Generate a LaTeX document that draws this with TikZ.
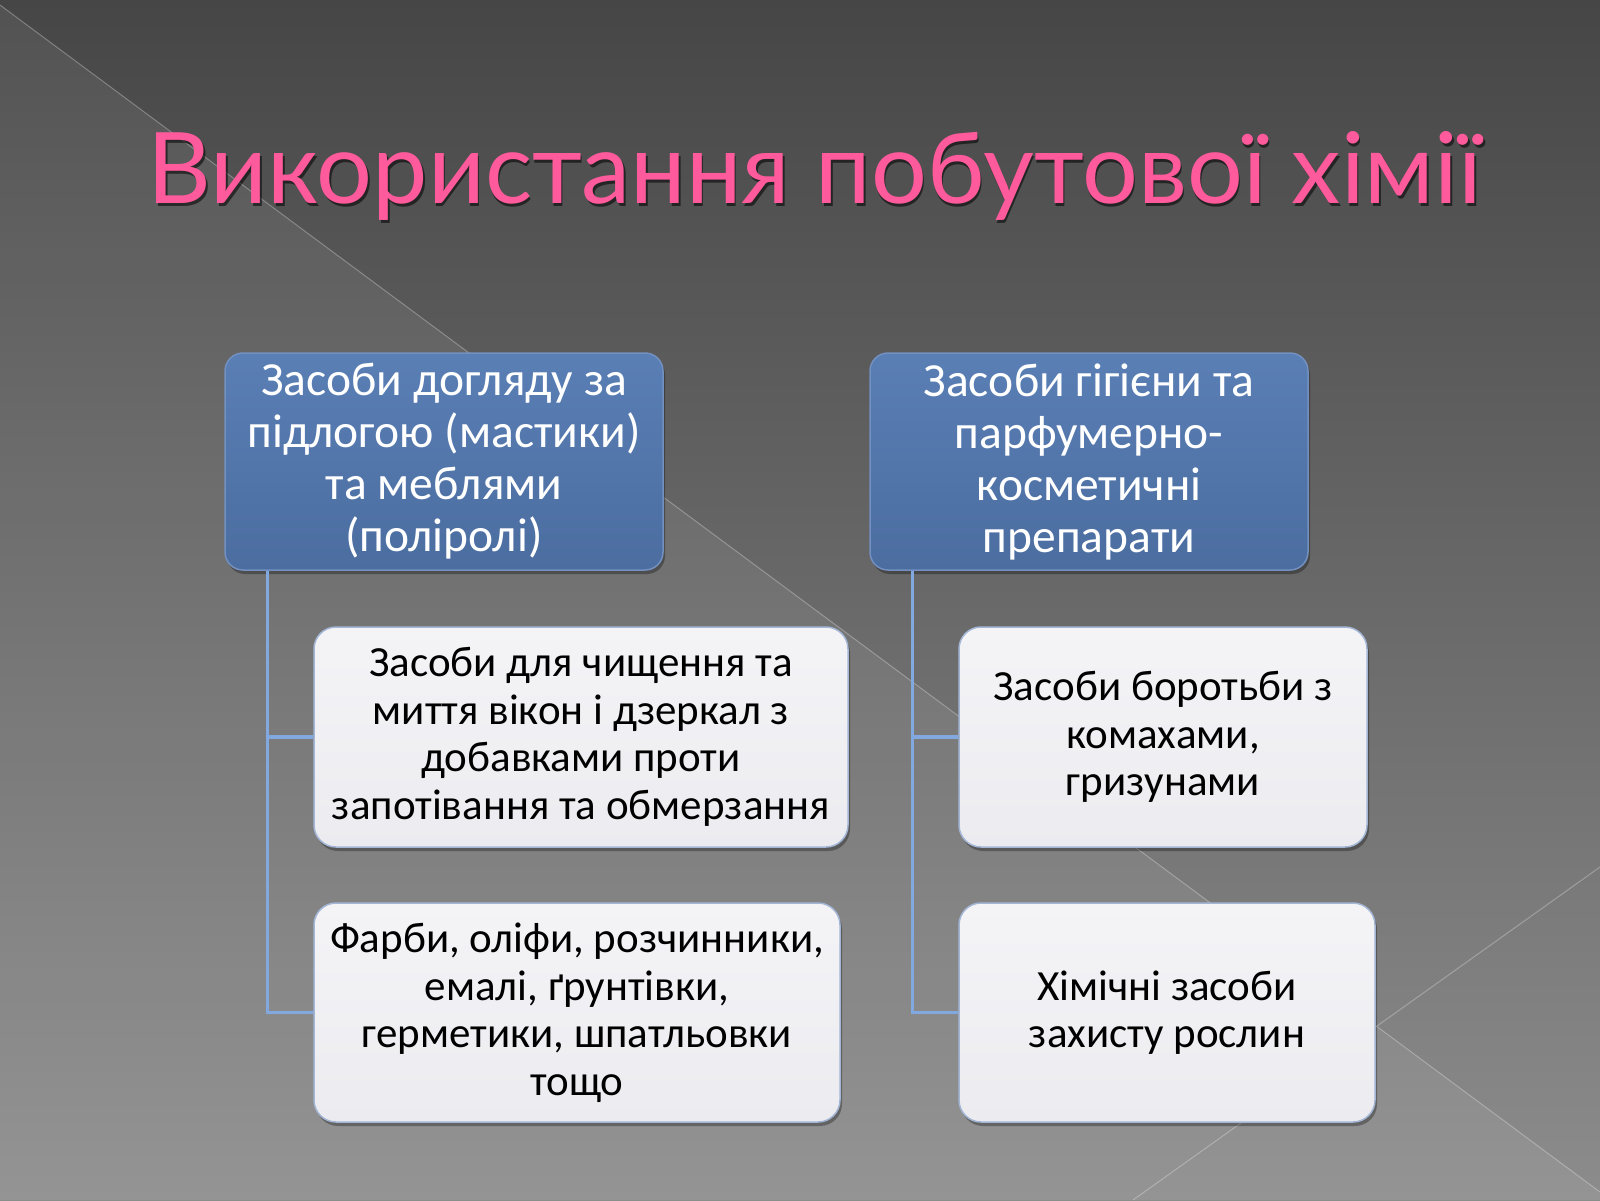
\documentclass[tikz,border=0pt]{standalone}
\usepackage{fontspec}
\usetikzlibrary{shadows}
\setmainfont{Carlito}
\newfontfamily\bodyfont{Carlito}
\newfontfamily\titlefont{Lato}
\definecolor{bgtop}{HTML}{464646}
\definecolor{bgbot}{HTML}{8C8C8C}
\definecolor{titlepink}{HTML}{FF5A9C}
\definecolor{blueTop}{HTML}{5A7FB5}
\definecolor{blueBot}{HTML}{4B6DA0}
\definecolor{blueEdge}{HTML}{7290C0}
\definecolor{whiteTop}{HTML}{F4F3F6}
\definecolor{whiteBot}{HTML}{ECEBEF}
\definecolor{whiteEdge}{HTML}{A3B6D6}
\definecolor{connC}{HTML}{82A8E0}
\tikzset{
  bgline/.style={draw=white, draw opacity=.28, line width=1pt},
  bluebox/.style={rectangle, rounded corners=18pt, top color=blueTop, bottom color=blueBot,
    draw=blueEdge, line width=1.5pt, inner sep=0pt, align=center, text=white,
    font=\bodyfont\fontsize{47.5pt}{52pt}\selectfont,
    drop shadow={shadow xshift=2pt, shadow yshift=-4pt, opacity=.3, fill=black}},
  whitebox/.style={rectangle, rounded corners=22pt, top color=whiteTop, bottom color=whiteBot,
    draw=whiteEdge, line width=1.5pt, inner sep=0pt, align=center, text=black,
    font=\bodyfont\fontsize{43pt}{47.5pt}\selectfont,
    drop shadow={shadow xshift=2pt, shadow yshift=-4pt, opacity=.3, fill=black}},
  conn/.style={draw=connC, line width=3.5pt}
}
\begin{document}
\begin{tikzpicture}[x=1pt,y=-1pt]
\useasboundingbox (0,0) rectangle (1600,1200);
% background
\fill[top color=bgtop, bottom color=bgbot] (0,0) rectangle (1600,1200);
\fill[white, opacity=.07] (0,5) -- (1600,1192) -- (1600,1200) -- (0,1200) -- cycle;
\draw[bgline] (0,5) -- (1600,1192);
\draw[bgline] (1133,1200) -- (1600,867);
% title
\node[anchor=base, text=black, opacity=.55, inner sep=0pt] (tshadow) at (816.5,206)
  {\titlefont\resizebox{1334pt}{!}{Використання побутової хімії}};
\node[anchor=base, text=titlepink, inner sep=0pt] (title) at (815,203)
  {\titlefont\resizebox{1334pt}{!}{Використання побутової хімії}};
% top boxes
\node[bluebox, minimum width=438pt, minimum height=217pt] (b1) at (444,461.5)
  {Засоби догляду за\\підлогою (мастики)\\та меблями\\(поліролі)};
\node[bluebox, minimum width=438pt, minimum height=217pt] (b2) at (1089,461.5)
  {Засоби гігієни та\\парфумерно-\\косметичні\\препарати};
% child boxes
\node[whitebox, minimum width=534pt, minimum height=220pt] (w1) at (581,737)
  {Засоби для чищення та\\миття вікон і дзеркал з\\добавками проти\\запотівання та обмерзання};
\node[whitebox, minimum width=526pt, minimum height=219pt] (w2) at (577,1012.5)
  {Фарби, оліфи, розчинники,\\емалі, ґрунтівки,\\герметики, шпатльовки\\тощо};
\node[whitebox, minimum width=408pt, minimum height=220pt] (w3) at (1163,737)
  {Засоби боротьби з\\комахами,\\гризунами};
\node[whitebox, minimum width=416pt, minimum height=219pt] (w4) at (1167,1012.5)
  {Хімічні засоби\\захисту рослин};
% connectors
\draw[conn] (b1.south west) ++(43,0) |- (w2.west);
\draw[conn] (b1.south west) ++(43,0) |- (w1.west);
\draw[conn] (b2.south west) ++(43,0) |- (w4.west);
\draw[conn] (b2.south west) ++(43,0) |- (w3.west);
\end{tikzpicture}
\end{document}
